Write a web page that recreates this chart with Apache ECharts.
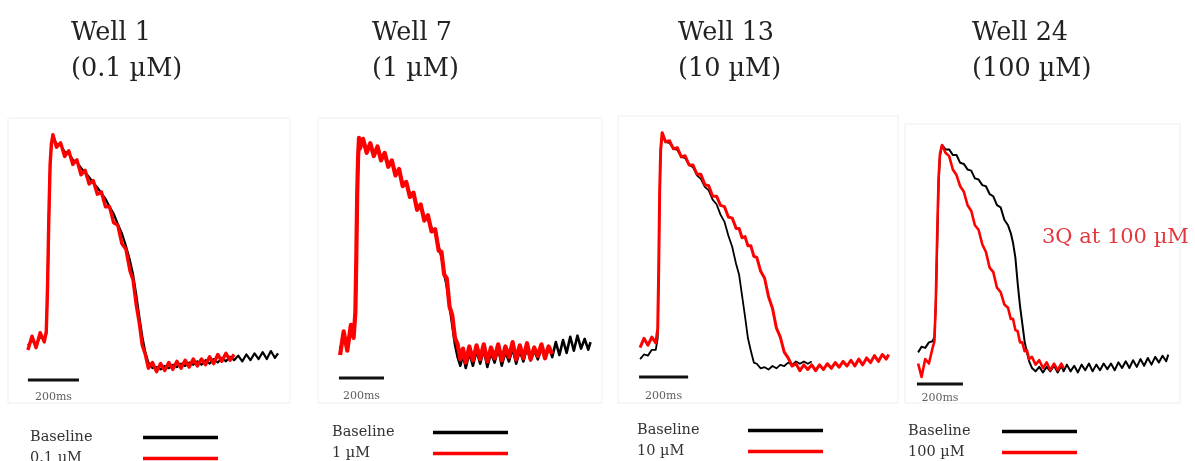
<!DOCTYPE html>
<html>
<head>
<meta charset="utf-8">
<script src="https://cdn.jsdelivr.net/npm/echarts@6/dist/echarts.min.js"></script>
<style>
  html, body { margin: 0; padding: 0; background: #fff; }
  #chart { width: 1195px; height: 461px; }
</style>
</head>
<body>
<div id="chart"></div>
<script>
// ---------------- DATA (time in ms, amplitude normalised: 0 = rest, 100 = peak) ----------------
const wells = ['Well 1', 'Well 7', 'Well 13', 'Well 24'];
const concs = ['0.1 µM', '1 µM', '10 µM', '100 µM'];
const baselineName = 'Baseline';
const annotation = '3Q at 100 µM';
const scaleBarMs = 200;
const scaleBarLabel = '200ms';
const scaleBarStart = [78, 93, 86, 52];
const scaleBarLevel = [-6.1, -10.7, -4.8, -7.2];

const time1 = [78, 94, 110, 126, 142, 150, 155, 160, 165, 170, 176, 190, 206, 222, 238, 254, 270, 286, 302, 318, 334, 350, 366, 382, 398, 414, 430, 446, 462, 478, 490, 502, 514, 526, 538, 550, 566, 582, 598, 614, 630, 646, 662, 678, 694, 710, 726, 742, 758, 774, 790, 806, 822, 838, 854, 870, 886, 902, 918, 934, 950, 966, 982, 998, 1014, 1030, 1046, 1058];
const base1 = [9, 11, 9.5, 12.5, 12, 14, 33, 63, 87, 96.5, 100, 97, 96.5, 93.5, 93, 90, 89, 86.5, 84.5, 82.5, 80, 78, 75.5, 73, 69.5, 66.5, 62, 58, 52.5, 46, 40, 31.5, 22, 13, 6, 1.5, -1, -0.5, -1.5, 0, -1, 0.5, -0.5, 1, 0, 1.5, 0.5, 2, 0.5, 2.5, 1, 3, 1.5, 3.5, 2, 4, 2.5, 4.5, 2, 5, 2.5, 5.5, 3, 6, 3, 6.5, 3.5, 5.5];
const drug1 = [7, 13, 8, 14.5, 10.5, 15, 35, 65, 88, 97, 101, 95.5, 97.5, 91.5, 94, 88, 90, 83.5, 85.5, 79.5, 81, 75, 76, 69.5, 69.5, 62.5, 61.5, 53.5, 51, 41.5, 37.5, 27, 19, 9, 5, -1, 1.5, -2.5, 1, -2, 1.5, -1.5, 2, -1, 2.5, -0.5, 3, 0, 3, 0.5, 4, 1, 5, 2, 5.5, 2.5, 5];

const time2 = [98, 114, 130, 146, 158, 166, 170, 174, 178, 182, 186, 200, 216, 232, 248, 264, 280, 296, 312, 328, 344, 360, 376, 392, 408, 424, 440, 456, 472, 488, 504, 520, 536, 548, 560, 572, 584, 596, 608, 620, 632, 644, 656, 672, 688, 704, 720, 736, 752, 768, 784, 800, 816, 832, 848, 864, 880, 896, 912, 928, 944, 960, 976, 992, 1008, 1024, 1040, 1056, 1072, 1088, 1104, 1120, 1136, 1152, 1168, 1184, 1200, 1210];
const base2 = [3, 8, 4, 11, 10, 18, 42, 73, 91, 99, 97.5, 98, 96, 97, 94, 95.5, 92, 93, 89, 89.5, 85, 85.5, 80, 80, 75, 75, 69, 69, 64, 64, 59, 57.5, 50, 46, 38, 32, 23, 14, 5, -1, -5, 0, -6, 1, -5, 2, -4, 2.5, -5.5, 1, -3.5, 3, -5, 1.5, -3, 3, -4, 2, -3, 3.5, -2.5, 2, -2, 3, -1, 4, -1, 6, 0, 7, 1, 8.5, 2, 9, 3, 7.5, 2.5, 6];
const drug2 = [0, 11, 2, 14, 8, 20, 45, 75, 92, 101, 96, 100.5, 94, 98.5, 92.5, 97, 90.5, 94, 87.5, 90.5, 83.5, 86.5, 78.5, 80.5, 73.5, 75.5, 67.5, 70, 62.5, 65, 57.5, 58.5, 48.5, 48, 37.5, 35.5, 22.5, 18.5, 8, 5, -2, 3, -3.5, 4, -2.5, 4.5, -2, 5, -3, 3.5, -1.5, 5, -2.5, 4, -1, 6, -2, 4.5, -1.5, 5.5, -2, 3.5, -0.5, 5, -1.5, 4, 0.5];

const time3 = [90, 106, 122, 138, 154, 162, 166, 170, 174, 180, 194, 210, 226, 242, 258, 274, 290, 306, 322, 338, 354, 370, 386, 402, 418, 434, 450, 466, 482, 494, 506, 518, 530, 542, 554, 566, 582, 598, 614, 630, 646, 662, 678, 694, 710, 726, 742, 758, 774, 790, 806, 822, 838, 854, 870, 886, 902, 918, 934, 950, 966, 982, 998, 1014, 1030, 1046, 1062, 1078, 1094, 1104];
const base3 = [3, 5, 4.5, 7, 7, 12, 40, 75, 93, 100, 97, 96.5, 94, 93.5, 90.5, 90, 87, 86, 82.5, 81, 77.5, 76, 72, 70, 65.5, 62.5, 56.5, 51.5, 44, 39.5, 30.5, 21.5, 12, 6.5, 1.5, 1, -1, -0.5, -1.5, 0, -1, 0.5, 0, 1.5, 0.5, 2, 1, 2, 1, 2];
const drug3 = [8, 12, 9, 12.5, 10, 16, 42, 76, 93.5, 101, 97, 97.5, 94, 94.5, 90.5, 91, 87, 87, 83, 83, 78.5, 78, 73.5, 73.5, 69.5, 69, 64.5, 64, 59.5, 59.5, 55.5, 56, 52, 52, 47.5, 47, 41, 38, 30, 25, 16.5, 12.5, 6, 3.5, 0, 1, -2, 0.5, -1.5, 0.5, -2, 0.5, -1.5, 1, -1, 1.5, -0.5, 2, 0, 2.5, 0, 3, 0.5, 3.5, 1.5, 4.5, 2, 5, 3, 5];

const time4 = [57, 72, 88, 104, 120, 128, 134, 140, 146, 152, 161, 176, 192, 208, 224, 240, 256, 272, 288, 304, 320, 336, 352, 368, 384, 400, 416, 432, 448, 460, 470, 480, 490, 500, 510, 520, 530, 540, 552, 568, 584, 600, 616, 632, 648, 664, 680, 690, 704, 720, 736, 752, 768, 784, 800, 816, 832, 848, 864, 880, 896, 912, 928, 944, 960, 976, 992, 1008, 1024, 1040, 1056, 1072, 1088, 1104, 1120, 1136, 1145];
const base4 = [7, 9.5, 9, 11.5, 12, 14, 28, 55, 82, 95, 100, 98, 98, 95.5, 95.5, 92, 91.5, 89, 88.5, 85, 84.5, 82, 81.5, 78, 77, 73, 72, 66.5, 64, 60.5, 56, 49.5, 38, 28, 20, 12, 7, 3, 0, -1.5, 0.5, -2, 0.5, -1.5, 1, -2, 1, -1.5, 1.5, -1.5, 1, -2, 1.5, -1, 2, -1.5, 1.5, -1, 2, -0.5, 2, -1, 2.5, 0, 3, 0, 3.5, 0.5, 4, 1, 4.5, 1.5, 5, 2.5, 5.5, 3, 6];
const drug4 = [2, -4, 4, 2, 9, 12, 30, 60, 85, 96, 100, 96.5, 95, 89, 86.5, 81.5, 79, 73, 70.5, 64, 62, 55.5, 52, 45, 43, 36, 34, 28.5, 27, 22, 22, 17, 16.5, 11.5, 11.5, 7.5, 8, 4, 5, 1.5, 3.5, 0, 2.5, -1, 2, -1, 2, 0];

const times = [time1, time2, time3, time4];
const baselines = [base1, base2, base3, base4];
const drugs = [drug1, drug2, drug3, drug4];

// ---------------- LAYOUT / STYLE ----------------
const FONT = '"DejaVu Serif", "Liberation Serif", serif';
const panels = [
  { left: 8,   top: 118, width: 282, height: 285, xMax: 1105, yMin: -16.2, yMax: 108.3, redW: 3.4, blackW: 2.2, titleX: 71,  legX: 30,  legY: 430, legW: 108, lblDist: 11 },
  { left: 318, top: 118, width: 284, height: 285, xMax: 1261, yMin: -22.3, yMax: 110.2, redW: 4.2, blackW: 2.6, titleX: 372, legX: 332, legY: 425, legW: 96,  lblDist: 12 },
  { left: 618, top: 116, width: 280, height: 287, xMax: 1142, yMin: -16.0, yMax: 108.2, redW: 3.0, blackW: 1.8, titleX: 678, legX: 637, legY: 423, legW: 106, lblDist: 13 },
  { left: 905, top: 124, width: 275, height: 279, xMax: 1196, yMin: -15.7, yMax: 109.4, redW: 2.6, blackW: 2.0, titleX: 972, legX: 908, legY: 424, legW: 89,  lblDist: 8 }
];

const pair = (t, v) => v.map((y, j) => [t[j], y]);

const grid = [], xAxis = [], yAxis = [], series = [], legend = [], title = [];
panels.forEach((p, i) => {
  grid.push({ left: p.left, top: p.top, width: p.width, height: p.height, show: true, borderColor: '#eeeeee', borderWidth: 1, backgroundColor: 'transparent' });
  xAxis.push({ type: 'value', gridIndex: i, min: 0, max: p.xMax, show: false });
  yAxis.push({ type: 'value', gridIndex: i, min: p.yMin, max: p.yMax, show: false });
  series.push({
    type: 'line', name: baselineName, xAxisIndex: i, yAxisIndex: i, data: pair(times[i], baselines[i]),
    symbol: 'none', showSymbol: false, silent: true, z: 2,
    lineStyle: { color: '#000', width: p.blackW, join: 'round' }, itemStyle: { color: '#000' }
  });
  series.push({
    type: 'line', name: concs[i], xAxisIndex: i, yAxisIndex: i, data: pair(times[i], drugs[i]),
    symbol: 'none', showSymbol: false, silent: true, z: 3,
    lineStyle: { color: '#ff0000', width: p.redW, join: 'round' }, itemStyle: { color: '#ff0000' }
  });
  series.push({
    type: 'line', name: 'scale' + i, xAxisIndex: i, yAxisIndex: i,
    data: [[scaleBarStart[i], scaleBarLevel[i]], [scaleBarStart[i] + scaleBarMs, scaleBarLevel[i]]],
    symbol: 'none', silent: true, z: 4, lineStyle: { color: '#111', width: 3 }
  });
  series.push({
    type: 'scatter', name: 'scaleLabel' + i, xAxisIndex: i, yAxisIndex: i,
    data: [[scaleBarStart[i] + scaleBarMs / 2, scaleBarLevel[i]]],
    symbolSize: 1, silent: true, itemStyle: { color: 'rgba(0,0,0,0)' },
    label: { show: true, position: 'bottom', distance: p.lblDist, formatter: scaleBarLabel,
      fontFamily: FONT, fontSize: 11, color: '#333' }
  });
  legend.push({
    data: [baselineName, concs[i]], left: p.legX, top: p.legY, width: 200, height: 80,
    orient: 'vertical', align: 'right',
    icon: 'rect', itemWidth: 75, itemHeight: 3.5, itemGap: 6, padding: 0, selectedMode: false,
    formatter: '{n|{name}}',
    textStyle: { fontFamily: FONT, fontSize: 14.5, color: '#333',
      rich: { n: { width: p.legW, align: 'left', fontFamily: FONT, fontSize: 14.5, color: '#333' } } }
  });
  title.push({
    text: wells[i] + '\n(' + concs[i] + ')', left: p.titleX, top: 15, padding: 0,
    textStyle: { fontFamily: FONT, fontSize: 25.5, lineHeight: 36, fontWeight: 'normal', color: '#222' }
  });
});

const chart = echarts.init(document.getElementById('chart'), null, { renderer: 'canvas' });
chart.setOption({
  animation: false,
  backgroundColor: '#fff',
  title, grid, xAxis, yAxis, series, legend,
  graphic: [{
    type: 'text', left: 1042, top: 227,
    style: { text: annotation, fontFamily: FONT, fontSize: 21, fill: '#e2373d' }
  }]
});
</script>
</body>
</html>
